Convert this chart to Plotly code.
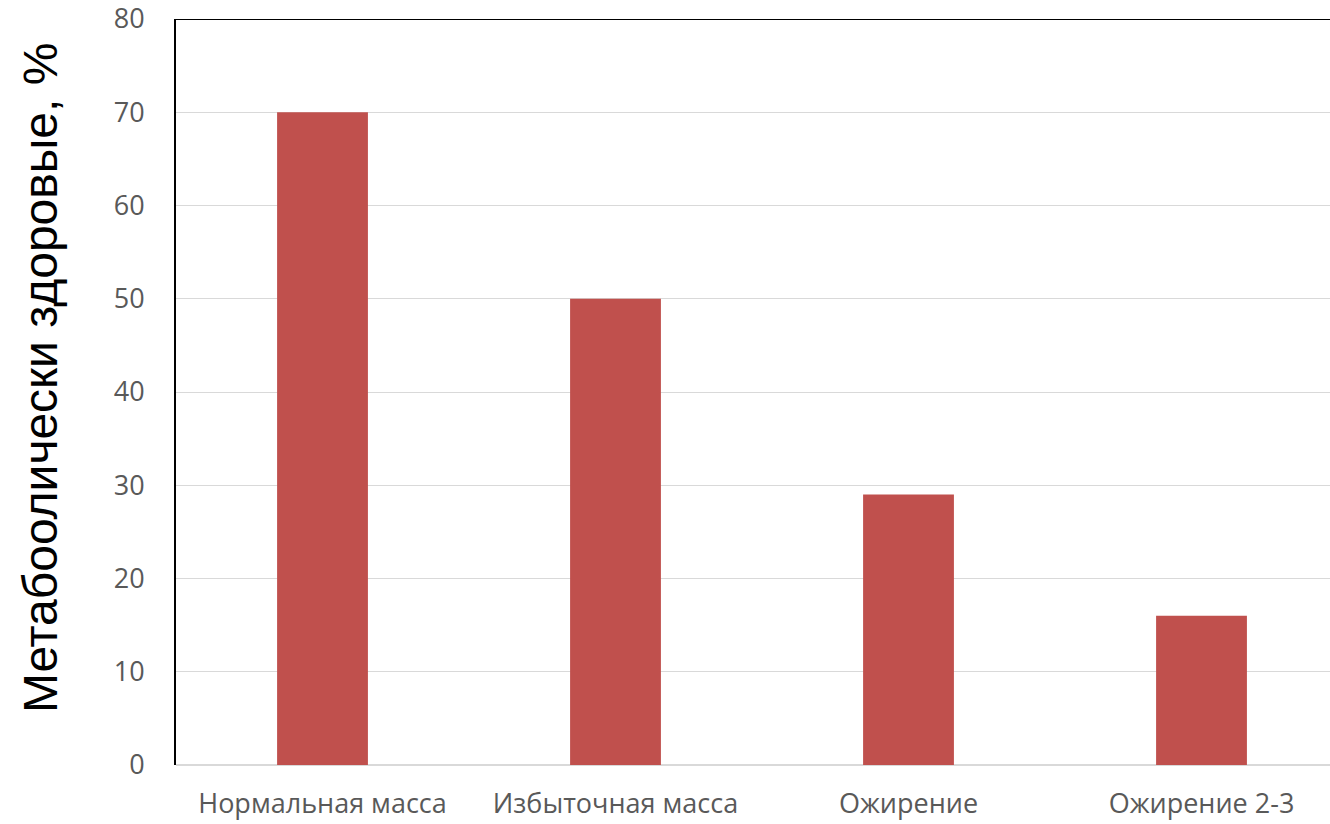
import plotly.graph_objects as go

categories = ["Нормальная масса", "Избыточная масса", "Ожирение", "Ожирение 2-3"]
values = [70, 50, 29, 16]
y_ticks = [0, 10, 20, 30, 40, 50, 60, 70, 80]
y_title = "Метабоолически здоровые, %"

W, H = 1330, 824
L, R, T, B = 176, 0, 19, 59
plot_w = W - L - R
plot_h = H - T - B

fig = go.Figure(
    go.Bar(
        x=categories,
        y=values,
        marker=dict(color="#c0504d", line=dict(width=0)),
        width=0.31,
    )
)

fig.update_layout(
    width=W,
    height=H,
    margin=dict(l=L, r=R, t=T, b=B),
    paper_bgcolor="white",
    plot_bgcolor="white",
    showlegend=False,
    font=dict(family="Open Sans", color="#595959"),
    xaxis=dict(
        range=[-0.5, -0.5 + plot_w / 293.0],
        showgrid=False,
        showline=False,
        zeroline=False,
        ticks="",
        tickfont=dict(size=27, family="Open Sans", color="#595959"),
        ticklabelstandoff=20,
        fixedrange=True,
    ),
    yaxis=dict(
        range=[0, 80],
        tickvals=y_ticks,
        showgrid=True,
        gridcolor="#d9d9d9",
        gridwidth=1,
        zeroline=True,
        zerolinecolor="#d9d9d9",
        zerolinewidth=2,
        showline=True,
        linecolor="black",
        linewidth=2,
        ticks="",
        tickfont=dict(size=27, family="Open Sans", color="#595959"),
        ticklabelstandoff=24,
        ticklabeloverflow="allow",
        fixedrange=True,
    ),
    shapes=[
        dict(type="line", xref="paper", yref="y", x0=0, x1=1, y0=80, y1=80,
             line=dict(color="black", width=2)),
    ],
    annotations=[
        dict(
            text=y_title,
            xref="paper", yref="paper",
            x=(40 - L) / plot_w, y=(H - B - 378) / plot_h,
            xanchor="center", yanchor="middle",
            textangle=-90,
            showarrow=False,
            font=dict(family="Liberation Sans", size=48, color="black"),
        )
    ],
)

fig.write_html("out.html")
